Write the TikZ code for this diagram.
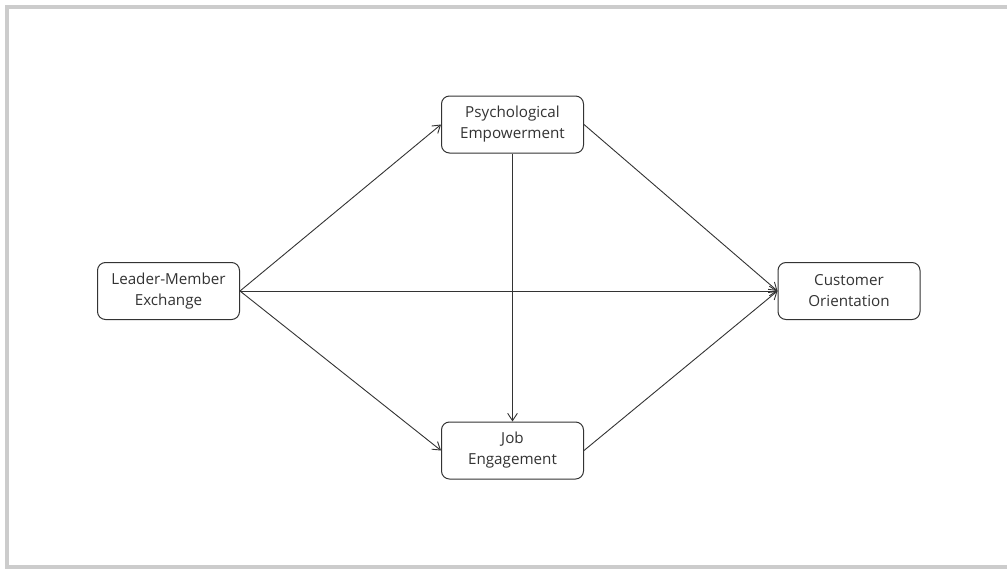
\documentclass[tikz,border=0pt]{standalone}
\usepackage{fontspec}
\setmainfont{Open Sans}
\usetikzlibrary{arrows.meta,positioning}
\definecolor{ink}{HTML}{333333}
\definecolor{frame}{HTML}{CCCCCC}
\tikzset{
  path/.style={-{Straight Barb[length=2.6mm, width=3.4mm]}, line width=0.9pt, draw=ink},
  construct/.style={
    rounded corners=2.8mm,
    draw=ink,
    line width=1pt,
    fill=white,
    minimum width=142pt,
    minimum height=57pt,
    align=center,
    inner sep=2pt,
    text=ink,
    font=\fontsize{15.2}{21}\selectfont
  }
}
\begin{document}
\begin{tikzpicture}[x=1pt, y=-1pt]
  \useasboundingbox (0,0) rectangle (1007,568);
  \draw[frame, line width=4pt] (7,6.5) rectangle (1030,567);

  \node[construct] (lmx) at (168.5,291) {Leader-Member\\Exchange};
  \node[construct] (pe) at (512.5,124.5) {Psychological\\Empowerment};
  \node[construct] (je) at (512.5,450.5) {Job\\Engagement};
  \node[construct] (co) at (849,291) {Customer\\Orientation};

  \draw[path] (lmx.east) -- (pe.west);
  \draw[path] (lmx.east) -- (je.west);
  \draw[path] (lmx.east) -- (co.west);
  \draw[path] (pe.south) -- (je.north);
  \draw[path] (pe.east) -- (co.west);
  \draw[path] (je.east) -- (co.west);
\end{tikzpicture}
\end{document}
